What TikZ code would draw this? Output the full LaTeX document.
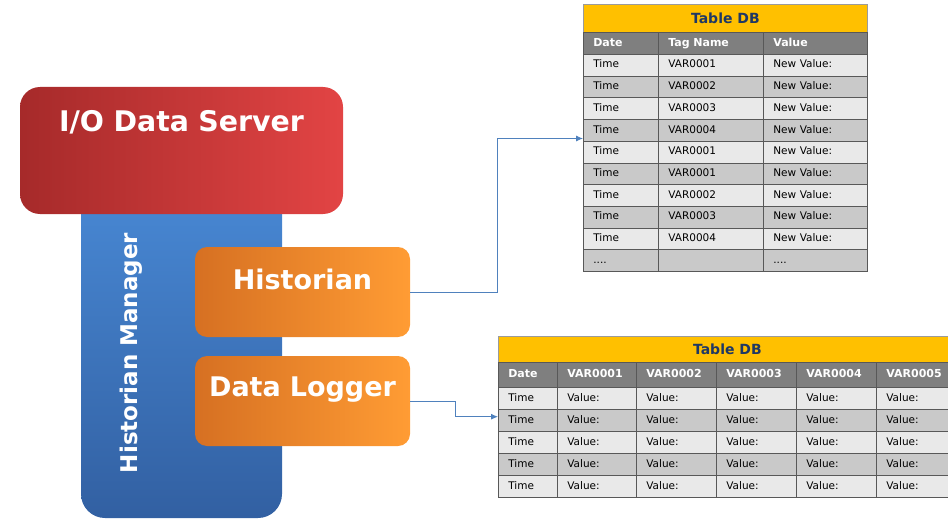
\documentclass[tikz,border=0pt]{standalone}
\usepackage{fontspec}
\setmainfont{DejaVu Sans}
\usetikzlibrary{arrows.meta}
\definecolor{redL}{RGB}{166,42,42}
\definecolor{redR}{RGB}{226,68,68}
\definecolor{blueT}{RGB}{72,136,212}
\definecolor{blueB}{RGB}{50,96,162}
\definecolor{orgL}{RGB}{214,112,34}
\definecolor{orgR}{RGB}{255,156,52}
\definecolor{tabyel}{RGB}{255,192,0}
\definecolor{navy}{RGB}{31,56,100}
\definecolor{headc}{RGB}{127,127,127}
\definecolor{rowa}{RGB}{233,233,233}
\definecolor{rowb}{RGB}{201,201,201}
\definecolor{gridc}{RGB}{88,88,88}
\definecolor{linkc}{RGB}{79,129,189}
\newcommand\celldots{....}

\begin{document}
\begin{tikzpicture}[x=1pt,y=-1pt,
  every node/.style={font=\fontsize{10.5}{12}\selectfont},
  bigbox/.style={rounded corners=20pt,inner sep=0pt,text=white,align=center,
    font=\bfseries\fontsize{27}{30}\selectfont},
  cell/.style={draw=gridc,line width=0.7pt,anchor=north west,inner xsep=10pt,inner ysep=0pt,
    align=left,text height=7.5pt,text depth=2pt,minimum height=21.7pt},
  head/.style={cell,fill=headc,text=white,font=\bfseries\fontsize{11}{13}\selectfont},
  title/.style={draw=gridc!60,line width=0.7pt,anchor=north west,fill=tabyel,text=navy,
    inner sep=0pt,font=\bfseries\fontsize{14}{16}\selectfont},
  link/.style={draw=linkc,line width=0.8pt,-{Latex[length=7pt,width=6pt]}}]
  \useasboundingbox (0,0) rectangle (948,519);
  \clip (0,0) rectangle (948,519);

  % left part
  \node[bigbox,rounded corners=24pt,rotate=90,top color=blueT,bottom color=blueB,
    text width=330pt,text height=56pt,text depth=145pt,
    font=\bfseries\fontsize{23}{27}\selectfont] (mgr) at (181.5,353) {Historian Manager};
  \node[bigbox,left color=redL,right color=redR,font=\bfseries\fontsize{28.4}{32}\selectfont,
    text width=323pt,text height=44pt,text depth=83pt] (srv) at (181.5,150.5) {I/O Data Server};
  \node[bigbox,rounded corners=12pt,left color=orgL,right color=orgR,
    text width=215pt,text height=42pt,text depth=48pt] (hist) at (302.5,292) {Historian};
  \node[bigbox,rounded corners=12pt,left color=orgL,right color=orgR,
    text width=215pt,text height=40pt,text depth=50pt] (log) at (302.5,401) {Data Logger};

  % table for the historian
  \node[title,minimum width=284pt,minimum height=28pt] (taT) at (583,4) {Table DB};
  \foreach \h/\x/\w [count=\c] in {Date/583/75,Tag Name/658/105,Value/763/104}{
    \pgfmathsetmacro\tw{\w-20}
    \node[head,text width=\tw pt,minimum height=22pt] (ta-0-\c) at (\x,32) {\h};
  }
  \foreach \d/\tag/\val [count=\r] in {Time/VAR0001/New Value:,Time/VAR0002/New Value:,
      Time/VAR0003/New Value:,Time/VAR0004/New Value:,Time/VAR0001/New Value:,
      Time/VAR0001/New Value:,Time/VAR0002/New Value:,Time/VAR0003/New Value:,
      Time/VAR0004/New Value:,\celldots/{}/\celldots}{
    \ifodd\r \def\rowc{rowa}\else \def\rowc{rowb}\fi
    \pgfmathsetmacro\ry{54+(\r-1)*21.7}
    \node[cell,fill=\rowc,text width=55pt] (ta-\r-1) at (583,\ry) {\d};
    \node[cell,fill=\rowc,text width=85pt] (ta-\r-2) at (658,\ry) {\tag};
    \node[cell,fill=\rowc,text width=84pt] (ta-\r-3) at (763,\ry) {\val};
  }

  % table for the data logger
  \node[title,minimum width=458pt,minimum height=26pt] (tbT) at (498,336) {Table DB};
  \foreach \h/\x/\w [count=\c] in {Date/498/59,VAR0001/557/79,VAR0002/636/80,
      VAR0003/716/80,VAR0004/796/80,VAR0005/876/80}{
    \pgfmathsetmacro\tw{\w-20}
    \node[head,text width=\tw pt,minimum height=25pt] (tb-0-\c) at (\x,362) {\h};
    \foreach \r in {1,2,3,4,5}{
      \ifodd\r \def\rowc{rowa}\else \def\rowc{rowb}\fi
      \pgfmathsetmacro\ry{387+(\r-1)*22}
      \node[cell,fill=\rowc,text width=\tw pt,minimum height=22pt] (tb-\r-\c) at (\x,\ry)
        {\ifnum\c=1 Time\else Value:\fi};
    }
  }

  % connectors
  \draw[link] (hist.east) -- ++(87,0) |- ([yshift=3pt]ta-4-1.south west);
  \draw[link] (log.east) -- ++(45,0) |- ([yshift=-7pt]tb-1-1.south west);
\end{tikzpicture}
\end{document}
